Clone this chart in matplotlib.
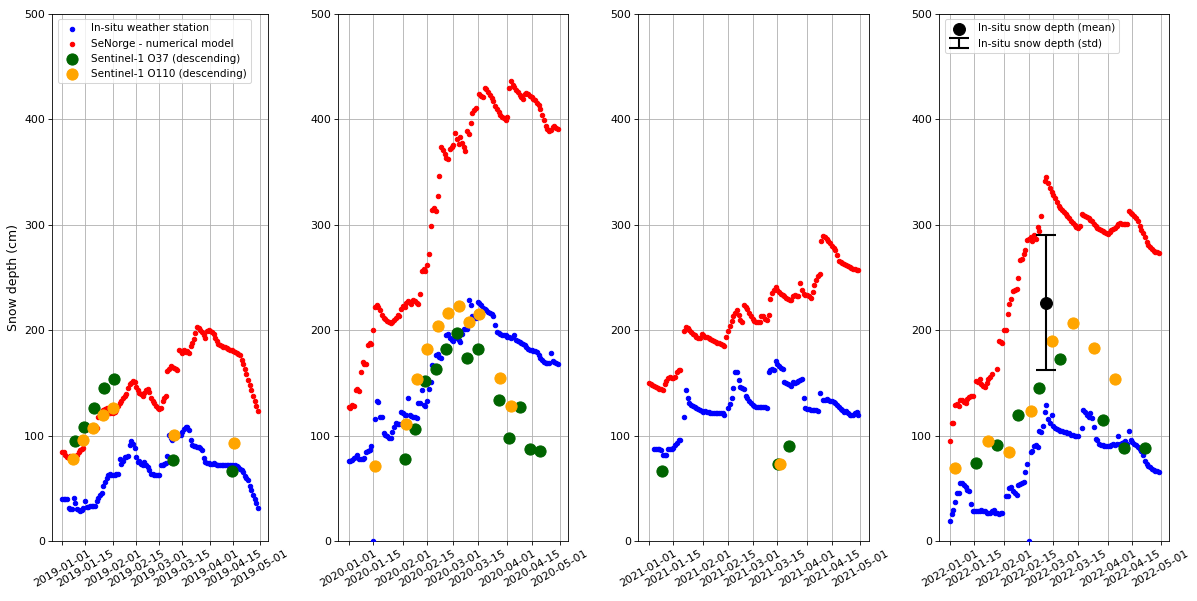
import numpy as np
import pandas as pd
import matplotlib
matplotlib.use("Agg")
import matplotlib.pyplot as plt
import matplotlib.dates as mdates

N = None
# ---------------- 2019 ----------------
blue_2019 = [40, 40, 40, 40, 31, 30, 30, 41, 36, 30,
             29, 28, 29, 31, 38, 32, 32, 33, 33, 33,
             33, 38, 41, 44, 46, 52, 56, 60, 63, 64,
             63, 63, 63, 64, 64, 78, 73, 76, 80, 80,
             81, 91, 95, 92, 88, 80, 75, 76, 73, 72,
             75, 72, 70, 67, 64, 64, 63, 63, 63, 63,
             72, 72, 73, 74, 81, 101, 98, 96, 100, 100,
             100, 101, 101, 103, 106, 108, 108, 105, 96, 91,
             90, 90, 89, 89, 88, 86, 79, 75, 74, 74,
             73, 73, 74, 73, 72, 72, 72, 72, 72, 72,
             72, 72, 72, 72, 71, 72, 71, 70, 68, 67,
             65, 62, 60, 58, 52, 48, 44, 40, 36, 31]
red_2019 = [84, 84, 82, 80, 79, 81, 80, 79, 80, 82,
            84, 86, 87, 88, 105, 106, 107, 106, 106, 107,
            106, 107, 118, 120, 122, 124, 125, 126, 122, 121,
            122, 121, 122, 124, 128, 131, 133, 136, 138, 139,
            145, 149, 150, 152, 151, 146, 143, 140, 139, 138,
            140, 143, 144, 141, 136, 133, 131, 128, 126, 125,
            126, 133, 136, 138, 161, 163, 166, 165, 164, 163,
            162, 181, 180, 178, 181, 179, 180, 178, 185, 188,
            192, 197, 203, 202, 200, 198, 195, 193, 199, 200,
            199, 198, 196, 193, 190, 187, 186, 185, 184, 184,
            183, 182, 181, 181, 180, 179, 178, 177, 176, 172,
            168, 163, 158, 153, 148, 143, 138, 133, 128, 123]
s37_dates_2019 = ['2019-01-08 14:00', '2019-01-14 14:00', '2019-01-20 14:00', '2019-01-26 14:00',
                  '2019-02-01 14:00', '2019-03-09 08:00', '2019-04-14 10:00']
s37_vals_2019 = [94.6, 108, 126, 145, 153.5, 77, 66.5]
s110_dates_2019 = ['2019-01-07 22:00', '2019-01-13 22:00', '2019-01-19 22:00', '2019-01-25 22:00',
                   '2019-01-31 22:00', '2019-03-10 00:00', '2019-04-15 04:00']
s110_vals_2019 = [78, 95.5, 107, 120, 126.5, 100.5, 93]

# ---------------- 2020 ----------------
blue_2020 = [76, 76, 77, 79, 80, 82, 78, 78, 78, 79,
             84, 85, 86, 90, 0, 116, 133, 132, 118, 118,
             102, 101, 100, 98, 98, 103, 108, 112, 111, 111,
             122, 121, 120, 120, 136, 120, 119, 118, 118, 117,
             131, 131, 143, 129, 128, 133, 144, 151, 167, 166,
             176, 177, 175, 174, 182, 184, 195, 196, 193, 191,
             190, 194, 193, 191, 189, 196, 201, 201, 201, 229,
             224, 213, 212, 212, 227, 226, 224, 221, 220, 219,
             217, 216, 215, 213, 205, 198, 197, 196, 195, 195,
             195, 194, 194, 193, 194, 195, 191, 190, 189, 188,
             187, 186, 184, 182, 181, 181, 180, 180, 179, 176,
             174, 172, 170, 169, 169, 169, 178, 171, 170, 169,
             168]
red_2020 = [127, 126, 129, 128, 143, 144, 142, 160, 170, 168,
            168, 186, 188, 187, 200, 222, 224, 222, 219, 214,
            212, 211, 209, 208, 207, 208, 210, 212, 214, 213,
            220, 223, 222, 226, 228, 227, 225, 229, 228, 226,
            225, 234, 256, 258, 256, 262, 272, 299, 314, 316,
            313, 327, 346, 374, 371, 367, 363, 362, 372, 374,
            376, 387, 381, 377, 383, 378, 374, 370, 389, 386,
            397, 406, 409, 411, N, 424, 422, 421, 430, 429,
            426, 423, 420, 417, 413, 410, 407, 404, 402, 401,
            399, 402, 430, 436, 433, 431, 428, 426, 423, 421,
            419, 424, 425, 424, 422, 421, 419, 418, 416, 414,
            410, 404, 399, 394, 391, 389, 390, 393, 394, 392,
            391]
s37_dates_2020 = ['2020-02-02', '2020-02-08', '2020-02-14', '2020-02-20', '2020-02-26',
                  '2020-03-03', '2020-03-09', '2020-03-15', '2020-03-27', '2020-04-02',
                  '2020-04-08', '2020-04-14', '2020-04-20']
s37_vals_2020 = [78, 106, 152, 163, 182, 197, 174, 182, 134, 98, 127, 87, 85]
s110_dates_2020 = ['2020-01-16', '2020-02-03', '2020-02-09', '2020-02-15', '2020-02-21',
                   '2020-02-27', '2020-03-04', '2020-03-10', '2020-03-16', '2020-03-28',
                   '2020-04-03']
s110_vals_2020 = [71, 111, 154, 182, 204, 216, 223, 208, 215, 155, 128]

# ---------------- 2021 ----------------
blue_2021 = [N, N, N, 87, 87, 87, 87, 86, 82, 82,
             82, 87, 87, 87, 88, 91, 93, 96, 96, N,
             118, 143, 136, 131, 129, 128, 127, 126, 125, 124,
             123, 122, 123, 122, 122, 121, 121, 121, 121, 121,
             121, 121, 121, 120, N, 126, 130, 136, 145, 160,
             160, 153, 146, 145, 144, 138, 136, 133, 131, 129,
             128, 127, 127, 127, 127, 127, 127, 126, 160, 162,
             163, 162, 171, 168, 166, 164, 163, 151, 150, 149,
             148, 147, 151, 150, 151, 152, 153, 154, 136, 126,
             125, 125, 124, 124, 124, 124, 123, 140, N, 134,
             134, 135, 134, 133, 133, 132, 131, 129, 127, 125,
             124, 122, 123, 121, 120, 120, 120, 121, 122, 120]
red_2021 = [150, 149, 148, 147, 146, 145, 144, 144, 143, 149,
            152, 155, 156, 155, 155, 156, 160, 162, 162, N,
            199, 203, 202, 200, 198, 196, 195, 194, 193, 193,
            196, 195, 194, 194, 193, 192, 191, 190, 189, 188,
            188, 187, 186, 185, 194, 199, 204, 209, 213, 216,
            219, 214, 210, 208, 224, 222, 220, 216, 213, 211,
            209, 208, 208, 208, 213, 213, 211, 210, 214, 230,
            235, 238, 241, 238, 236, 234, 233, 232, 231, 230,
            229, 229, 232, 233, 232, 232, 245, 238, 234, 233,
            233, 232, 231, 236, 243, 248, 251, 253, 285, 289,
            288, 287, 285, 283, 280, 278, 276, 271, 266, 265,
            264, 263, 262, 261, 260, 259, 258, 258, 257, 257]
s37_dates_2021 = ['2021-01-08 14:00', '2021-03-15 12:00', '2021-03-21 14:00']
s37_vals_2021 = [66, 73.5, 90]
s110_dates_2021 = ['2021-03-16 14:00']
s110_vals_2021 = [73.5]

# ---------------- 2022 ----------------
blue_2022 = [19, 26, 29, 37, 46, 46, 55, 55, 53, 51,
             48, 47, 35, 28, 28, 28, 28, 28, 29, 28,
             28, 27, 27, 27, 28, 29, 27, 27, 26, 27,
             27, N, 43, 43, 50, 51, 47, 46, 44, 53,
             54, 55, 56, 65, 73, 0, 84, 85, 90, 91,
             89, 104, 103, 109, 122, 129, 116, 112, 120, 109,
             107, 106, 105, 104, 104, 103, 103, 102, 102, 101,
             101, 100, 100, 100, N, 107, 124, 122, 120, 118,
             121, 117, 108, 97, 96, 92, 91, 91, 90, 90,
             90, 90, 91, 92, 91, 92, 100, 92, 93, 94,
             95, 92, 104, 96, 94, 92, 91, 89, 87, 85,
             82, 76, 73, 71, 70, 68, 67, 66, 66, 65]
red_2022 = [95, 112, 112, 129, 130, 128, 134, 134, 132, 131,
            135, 137, 138, 138, N, 152, 151, 154, 149, 147,
            146, 150, 154, 156, 158, N, N, 163, 190, 189,
            188, 200, 200, 215, 225, 230, 237, 238, 239, 250,
            267, 268, 272, 276, 286, 287, 288, 285, 290, 287,
            298, 294, 308, N, 342, 345, 340, 335, 331, 328,
            325, 322, 318, 316, 314, 312, 310, 308, 306, 304,
            302, 300, 298, 297, 299, 310, 309, 308, 307, 306,
            305, 304, 301, 299, 297, 296, 295, 294, 293, 292,
            291, 293, 295, 296, 297, 299, 301, 302, 301, 301,
            301, 301, 313, 311, 310, 308, 306, 304, 299, 295,
            292, 288, 284, 281, 279, 277, 275, 274, 274, 273]
s37_dates_2022 = ['2022-01-16', '2022-01-28', '2022-02-09', '2022-02-21', '2022-03-05',
                  '2022-03-29', '2022-04-10', '2022-04-22']
s37_vals_2022 = [74, 91, 120, 145, 173, 115, 88, 88]
s110_dates_2022 = ['2022-01-04', '2022-01-23', '2022-02-04', '2022-02-16', '2022-02-28',
                   '2022-03-12', '2022-03-24', '2022-04-05']
s110_vals_2022 = [69, 95, 84, 123, 190, 207, 183, 154]
insitu_date_2022 = ['2022-02-25']
insitu_mean_2022 = [226]
insitu_std_2022 = [64]

W, H = 1197, 601
fig = plt.figure(figsize=(W / 75, H / 75), dpi=75)
bottom = (H - 541) / H
height = (541 - 14) / H
panels = [(52.3, 215.5), (338.3, 230.0), (638.3, 230.5), (939.3, 230.0)]
axes = [fig.add_axes([l / W, bottom, w / W, height]) for l, w in panels]

data = [
    (2019, blue_2019, red_2019, s37_dates_2019, s37_vals_2019, s110_dates_2019, s110_vals_2019),
    (2020, blue_2020, red_2020, s37_dates_2020, s37_vals_2020, s110_dates_2020, s110_vals_2020),
    (2021, blue_2021, red_2021, s37_dates_2021, s37_vals_2021, s110_dates_2021, s110_vals_2021),
    (2022, blue_2022, red_2022, s37_dates_2022, s37_vals_2022, s110_dates_2022, s110_vals_2022),
]

for ax, (yr, blue, red, d37, v37, d110, v110) in zip(axes, data):
    days = pd.date_range(f'{yr}-01-01', periods=len(blue), freq='D')
    ax.scatter(days, np.array(blue, dtype=float), s=18, color='blue', zorder=3,
               label='In-situ weather station')
    ax.scatter(days, np.array(red, dtype=float), s=18, color='red', zorder=3,
               label='SeNorge - numerical model')
    ax.scatter(pd.to_datetime(d37), v37, s=115, color='darkgreen', zorder=4,
               label='Sentinel-1 O37 (descending)')
    ax.scatter(pd.to_datetime(d110), v110, s=115, color='orange', zorder=4,
               label='Sentinel-1 O110 (descending)')
    ax.set_ylim(0, 500)
    ax.xaxis.set_major_locator(mdates.DayLocator(bymonthday=[1, 15]))
    ax.xaxis.set_major_formatter(mdates.DateFormatter('%Y-%m-%d'))
    ax.tick_params(axis='x', labelrotation=30, labelsize=10.5)
    ax.tick_params(axis='y', labelsize=10.5)
    ax.grid(True)
    ax.set_axisbelow(True)

axes[0].set_ylabel('Snow depth (cm)', fontsize=12)
axes[0].legend(loc='upper left', fontsize=10)

ax = axes[3]
ax.scatter(pd.to_datetime(insitu_date_2022), insitu_mean_2022, s=130, color='black', zorder=6,
           label='In-situ snow depth (mean)')
ax.errorbar(pd.to_datetime(insitu_date_2022), insitu_mean_2022, yerr=insitu_std_2022, fmt='none',
            ecolor='black', elinewidth=2, capsize=10, capthick=2, zorder=5,
            label='In-situ snow depth (std)')
h, l = ax.get_legend_handles_labels()
keep = [i for i, lab in enumerate(l) if lab.startswith('In-situ snow')]
ax.legend([h[i] for i in keep], [l[i] for i in keep], loc='upper left', fontsize=10)

fig.savefig('out.png', dpi=75)
